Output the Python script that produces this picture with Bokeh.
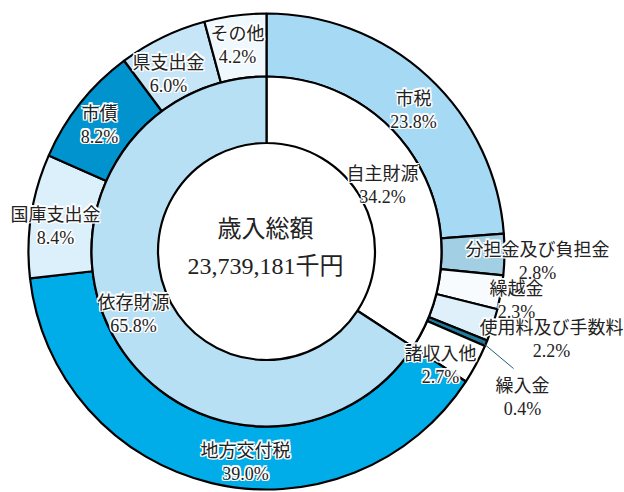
import math
from bokeh.plotting import figure
from bokeh.models import Range1d, ColumnDataSource
from bokeh.core.properties import value
from bokeh.embed import file_html
from bokeh.resources import INLINE

# ---------------- data ----------------
outer_names = ["市税", "分担金及び負担金", "繰越金", "使用料及び手数料", "繰入金",
               "諸収入他", "地方交付税", "国庫支出金", "市債", "県支出金", "その他"]
outer_values = [23.8, 2.8, 2.3, 2.2, 0.4, 2.7, 39.0, 8.4, 8.2, 6.0, 4.2]
inner_names = ["自主財源", "依存財源"]
inner_values = [34.2, 65.8]
center_title = "歳入総額"
center_total = "23,739,181千円"

# ---------------- styles / layout ----------------
outer_colors = ["#a6daf4", "#a3cfe4", "#f7fbfe", "#dff0fa", "#1f7a9c",
                "#ffffff", "#00ade8", "#dcf0fb", "#0093ce", "#c6e6f7", "#eff8fd"]
inner_colors = ["#ffffff", "#b7e0f5"]

W, H = 624, 492
CX, CY = 266, 251          # pixel coords of centre (from top-left)
R_OUT, R_MID, R_IN = 238, 175, 108.5
FONT = value("Liberation Serif, Noto Sans CJK JP")
TXT = "#222222"
LINE_GAP = 23

# label first-line centre positions (px from top-left)
outer_label_pos = [(413, 98), (537, 249), (516, 288), (551, 327), (522, 385),
                   (440, 353), (245, 450), (55, 214), (99, 113), (168, 62), (237, 33)]
inner_label_pos = [(382, 173), (133, 302)]
center_pos = [(265, 228), (265, 265)]


def dx(px):
    return px


def dy(py):
    return H - py


def wedges(values):
    total = sum(values)
    starts, ends = [], []
    cum = 0.0
    for v in values:
        starts.append(math.pi / 2 - 2 * math.pi * cum / total)
        cum += v
        ends.append(math.pi / 2 - 2 * math.pi * cum / total)
    return starts, ends


p = figure(width=W, height=H, output_backend="svg", toolbar_location=None,
           x_range=Range1d(0, W), y_range=Range1d(0, H), min_border=0)
p.axis.visible = False
p.grid.visible = False
p.outline_line_color = None
p.background_fill_color = "white"
p.border_fill_color = "white"

s_o, e_o = wedges(outer_values)
src_o = ColumnDataSource(dict(start=s_o, end=e_o, color=outer_colors, name=outer_names))
p.annular_wedge(x=dx(CX), y=dy(CY), inner_radius=R_MID, outer_radius=R_OUT,
                start_angle="start", end_angle="end", direction="clock",
                fill_color="color", line_color="black", line_width=2.2, source=src_o)

s_i, e_i = wedges(inner_values)
src_i = ColumnDataSource(dict(start=s_i, end=e_i, color=inner_colors, name=inner_names))
p.annular_wedge(x=dx(CX), y=dy(CY), inner_radius=R_IN, outer_radius=R_MID,
                start_angle="start", end_angle="end", direction="clock",
                fill_color="color", line_color="black", line_width=2.2, source=src_i)

# leader line for 繰入金
k = outer_names.index("繰入金")
mid = (s_o[k] + e_o[k]) / 2
x0 = dx(CX) + (R_OUT - 6) * math.cos(mid)
y0 = dy(CY) + (R_OUT - 6) * math.sin(mid)
lx, ly = outer_label_pos[k]
p.line([x0, dx(lx - 9)], [y0, dy(ly - 17)], line_color="#1f5f7a", line_width=1)


def add_labels(names, values, pos, size):
    xs, ys, texts = [], [], []
    for n, v, (px, py) in zip(names, values, pos):
        xs += [dx(px), dx(px)]
        ys += [dy(py), dy(py + LINE_GAP)]
        texts += [n, f"{v:.1f}%"]
    # white halo behind the labels
    for ang in range(0, 360, 45):
        ox = 1.6 * math.cos(math.radians(ang))
        oy = 1.6 * math.sin(math.radians(ang))
        p.text(x=[x + ox for x in xs], y=[y + oy for y in ys], text=texts,
               text_font=FONT, text_font_size=size, text_align="center",
               text_baseline="middle", text_color="white")
    p.text(x=xs, y=ys, text=texts, text_font=FONT, text_font_size=size,
           text_align="center", text_baseline="middle", text_color=TXT)


add_labels(outer_names, outer_values, outer_label_pos, "18px")
add_labels(inner_names, inner_values, inner_label_pos, "18px")

p.text(x=[dx(x) for x, _ in center_pos], y=[dy(y) for _, y in center_pos],
       text=[center_title, center_total], text_font=FONT, text_font_size="24px",
       text_align="center", text_baseline="middle", text_color=TXT)

open("out.html", "w").write(file_html(p, INLINE))
